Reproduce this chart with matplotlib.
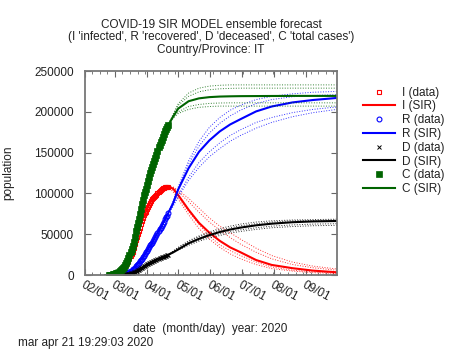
import numpy as np
import pandas as pd
import matplotlib
matplotlib.use('Agg')
import matplotlib.pyplot as plt
import matplotlib.dates as mdates
from matplotlib.ticker import AutoMinorLocator

plt.rcParams['font.family'] = ['Liberation Sans', 'DejaVu Sans']

# observed data, one value per day starting 2020-02-24
data_start = '2020-02-24'
C_data = [229, 322, 400, 650, 888, 1128, 1694, 2036, 2502, 3089, 3858, 4636, 5883, 7375,
          9172, 10149, 12462, 15113, 17660, 21157, 24747, 27980, 31506, 35713, 41035, 47021,
          53578, 59138, 63927, 69176, 74386, 80539, 86498, 92472, 97689, 101739, 105792,
          110574, 115242, 119827, 124632, 128948, 132547, 135586, 139422, 143626, 147577,
          152271, 156363, 159516, 162488, 165155, 168941, 172434, 175925, 178972, 181228, 183957]
I_data = [221, 311, 385, 588, 821, 1049, 1577, 1835, 2263, 2706, 3296, 3916, 5061, 6387,
          7985, 8794, 10590, 12839, 14955, 17750, 20603, 23073, 26062, 28710, 33190, 37860,
          42681, 46638, 50418, 54030, 57521, 62013, 66414, 70065, 73880, 75528, 77635,
          80572, 83049, 85388, 88274, 91246, 93187, 94067, 95262, 96877, 98273,
          100269, 102253, 103616, 104291, 105418, 106607, 106962, 107771, 108257, 108237, 107709]
R_data = [8, 11, 15, 62, 67, 79, 117, 201, 239, 383, 562, 720, 822, 988,
          1187, 1355, 1872, 2274, 2705, 3407, 4144, 4907, 5444, 7003, 7845, 9161,
          10897, 12500, 13509, 15146, 16865, 18526, 20084, 22407, 23809, 26211, 28157,
          30002, 32193, 34439, 36358, 37702, 39360, 41519, 44160, 46749, 49304,
          52002, 54110, 55900, 58197, 59737, 62334, 65472, 68154, 70715, 72991, 76248]
D_data = [7, 10, 12, 17, 21, 29, 34, 52, 79, 107, 148, 197, 233, 366,
          463, 631, 827, 1016, 1266, 1441, 1809, 2158, 2503, 2978, 3405, 4032,
          4825, 5476, 6077, 6820, 7503, 8165, 9134, 10023, 10779, 11591, 12428,
          13155, 13915, 14681, 15362, 15887, 16523, 17127, 17669, 18279, 18849,
          19468, 19899, 20465, 21067, 21645, 22170, 22745, 23227, 23660, 24114, 24648]

# SIR fit (thousands), days since 2020-02-01
model_start = '2020-02-01'
t_model = [20, 25, 30, 35, 40, 45, 50, 55, 60, 65, 70, 75, 80,
           85, 90, 100, 110, 120, 130, 140, 150, 165, 180, 200, 220, 243]
I_sir = [0.04, 0.38, 1.8, 5.0, 12.5, 26, 46, 66, 81, 93, 101, 106.5, 108.5,
         106, 98, 80, 64, 52, 42, 34, 28, 18.5, 12.5, 8.5, 5.5, 3.5]
R_sir = [0, 0.02, 0.2, 0.8, 2.3, 5.5, 12.5, 20, 30, 39.5, 51.5, 62.5, 75,
         88, 105, 131, 151, 165, 176, 184.5, 191, 200.5, 206.5, 211.5, 214.5, 217]
D_sir = [0, 0.01, 0.05, 0.23, 1.0, 2.5, 5.5, 9.1, 13.1, 16.5, 19.5, 22.2, 24.7,
         27.8, 31.5, 39, 44.5, 49, 52.8, 55.8, 58.2, 61, 63, 64.8, 65.8, 66.3]
C_sir = [0.04, 0.4, 2.0, 5.8, 14.5, 31, 58, 86, 110, 132, 151.5, 168.5, 183,
         194, 204, 213, 216.5, 218, 218.7, 219, 219.2, 219.3, 219.4, 219.5, 219.5, 219.5]

# ensemble members (thousands), same grid from day 80 on
t_ens = [80, 85, 90, 100, 110, 120, 130, 140, 150, 165, 180, 200, 220, 243]
I_ens = [
    [108.5, 108, 104, 94, 82, 70, 60, 52, 44, 33, 24, 16, 11, 7.5],
    [108.5, 107, 102, 90, 77, 65, 55, 46, 38, 28, 20, 13, 9, 6],
    [108.5, 104, 96, 78, 62, 48, 37, 30, 24, 16, 10, 6, 4, 2.5],
    [108.5, 102, 93, 74, 57, 44, 34, 26, 20, 13, 8, 5, 3, 2],
]
R_ens = [
    [75, 90, 108, 140, 164, 181, 193, 202, 208, 215, 219, 222, 224, 225],
    [75, 89, 106, 136, 158, 174, 186, 195, 202, 210, 215, 218.5, 220, 221],
    [75, 85, 98, 120, 138, 151, 162, 171, 178, 187, 193, 199, 203, 206],
    [75, 84, 96, 116, 132, 145, 155, 164, 171, 180, 187, 194, 199, 203],
]
D_ens = [
    [24.7, 29.5, 34, 42, 48, 53, 57, 60, 62.5, 65, 66.5, 67.5, 68, 68.5],
    [24.7, 29, 33.5, 41, 47, 51.5, 55, 58, 60.5, 63, 65, 66.5, 67, 67.5],
    [24.7, 28, 31.5, 38, 43, 47.5, 50.5, 53.5, 55.5, 58, 60, 61.5, 62.5, 63],
    [24.7, 27.5, 30.5, 36.5, 41.5, 45.5, 48.5, 51.5, 53.5, 56, 58, 59.5, 60.5, 61],
]
C_ens = [
    [183, 197, 210, 223, 229, 231.5, 232.5, 233, 233, 233, 233, 233, 233, 233],
    [183, 196, 208, 219, 224.5, 227, 228.2, 228.7, 229, 229, 229, 229, 229, 229],
    [183, 193, 200, 206.5, 209, 210.3, 210.8, 211, 211, 211, 211, 211, 211, 211],
    [183, 192, 198, 203, 205.5, 206.5, 207, 207, 207, 207, 207, 207, 207, 207],
]

d_data = pd.date_range(data_start, periods=len(C_data))
d_model = pd.Timestamp(model_start) + pd.to_timedelta(t_model, unit='D')
d_ens = pd.Timestamp(model_start) + pd.to_timedelta(t_ens, unit='D')

series = [
    ('I', I_data, I_sir, I_ens, '#ff0000', dict(marker='s', mfc='none', ms=3.5, mew=0.8)),
    ('R', R_data, R_sir, R_ens, '#0000ff', dict(marker='o', mfc='none', ms=3.5, mew=0.8)),
    ('D', D_data, D_sir, D_ens, '#000000', dict(marker='x', ms=3.5, mew=0.7)),
    ('C', C_data, C_sir, C_ens, '#006400', dict(marker='s', ms=3.8, mew=0.5)),
]

fig = plt.figure(figsize=(4.74, 3.55), dpi=100)
ax = fig.add_axes([0.179, 0.225, 0.532, 0.575])
txt = '#222222'

for name, dat, sir, ens, col, mk in series:
    for e in ens:
        ax.plot(d_ens, np.array(e) * 1000, ls=':', lw=0.7, color=col, alpha=0.8)
    ax.plot(d_data, dat, ls='none', color=col, label=name + ' (data)', **mk)
    ax.plot(d_model, np.array(sir) * 1000, lw=1.5, color=col, label=name + ' (SIR)')

ax.set_xlim(pd.Timestamp('2020-02-01'), pd.Timestamp('2020-10-01'))
ax.set_ylim(0, 250000)
ax.set_yticks(np.arange(0, 250001, 50000))
ax.xaxis.set_major_locator(mdates.MonthLocator(bymonth=range(2, 10)))
ax.xaxis.set_major_formatter(mdates.DateFormatter('%m/%d'))
ax.xaxis.set_minor_locator(AutoMinorLocator(4))
ax.tick_params(which='both', direction='in', top=True, right=True, color='#666666',
               labelsize=8.5, labelcolor=txt)
ax.tick_params(which='major', length=4, width=0.8)
ax.tick_params(which='minor', length=2, width=0.6)
ax.tick_params(axis='y', pad=8)
ax.tick_params(axis='x', pad=3)
for lab in ax.get_xticklabels():
    lab.set_rotation(-28)
    lab.set_ha('left')
    lab.set_va('top')
    lab.set_rotation_mode('anchor')
for sp in ax.spines.values():
    sp.set_color('#777777')
    sp.set_linewidth(1.3)

ax.set_ylabel('population', fontsize=8.5, color=txt, labelpad=14)
ax.set_title("COVID-19 SIR MODEL ensemble forecast\n"
             "(I 'infected', R 'recovered', D 'deceased', C 'total cases')\n"
             "Country/Province: IT", fontsize=8.5, color=txt, pad=13, linespacing=1.05)

leg = ax.legend(loc='upper left', bbox_to_anchor=(1.06, 0.975), frameon=False, fontsize=8.5,
                handlelength=2.7, handletextpad=0.6, labelspacing=0.15, markerfirst=True)
for t in leg.get_texts():
    t.set_color(txt)

fig.text(0.443, 0.073, 'date  (month/day)  year: 2020', fontsize=8.5, color=txt,
         ha='center', va='center')
fig.text(0.038, 0.025, 'mar apr 21 19:29:03 2020', fontsize=8.5, color=txt)

fig.savefig('out.png', dpi=100)
